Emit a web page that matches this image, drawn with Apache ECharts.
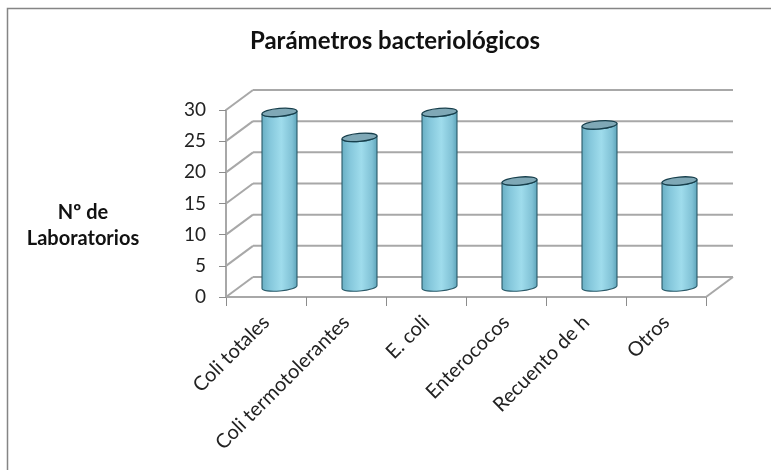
<!DOCTYPE html>
<html><head><meta charset="utf-8">
<style>html,body{margin:0;padding:0;background:#fff}#c{width:771px;height:470px}</style>
<script src="https://cdn.jsdelivr.net/npm/echarts@6/dist/echarts.min.js"></script>
</head><body><div id="c"></div>
<script>
const categories = ['Coli totales','Coli termotolerantes','E. coli','Enterococos','Recuento de h','Otros'];
const values = [28,24,28,17,26,17];
const yTicks = [0,5,10,15,20,25,30];
const titleText = 'Parámetros bacteriológicos';
const yTitleText = 'Nº de\nLaboratorios';

const FONT = 'Lato';
const DEPTH_X = 27, DEPTH_Y = -20;
const chart = echarts.init(document.getElementById('c'), null, {renderer:'canvas'});
const gridCol = '#a8a8a8';

function wallItem(params, api){
  const v = api.value(0);
  const cs = params.coordSys;
  const p = api.coord([0, v]);
  const y = p[1], x0 = cs.x, x1 = cs.x + cs.width;
  const st = {stroke:gridCol, lineWidth:2, fill:null};
  const children = [
    {type:'line', shape:{x1:x0, y1:y, x2:x0+DEPTH_X, y2:y+DEPTH_Y}, style:st}
  ];
  children.push({type:'line', shape:{x1:x0+DEPTH_X, y1:y+DEPTH_Y, x2:x1+DEPTH_X, y2:y+DEPTH_Y}, style:st});
  if (v === 0) children.push({type:'line', shape:{x1:x1, y1:y, x2:x1+DEPTH_X, y2:y+DEPTH_Y}, style:st});
  return {type:'group', children};
}

function cylItem(params, api){
  const top = api.coord([api.value(0), api.value(1)]);
  const base = api.coord([api.value(0), 0]);
  const cx = top[0] + DEPTH_X/2, off = DEPTH_Y/2;
  const rx = 17.5, ry = 4, tilt = -5;
  const dy = rx*Math.sin(-tilt*Math.PI/180);
  const L = cx-rx, R = cx+rx, T = top[1]+off, B = base[1]+off;
  const body = `M${L} ${T+dy}L${L} ${B+dy}A${rx} ${ry} ${tilt} 0 0 ${R} ${B-dy}L${R} ${T-dy}A${rx} ${ry} ${tilt} 0 1 ${L} ${T+dy}Z`;
  const cap = `M${L} ${T+dy}A${rx} ${ry} ${tilt} 0 1 ${R} ${T-dy}A${rx} ${ry} ${tilt} 0 1 ${L} ${T+dy}Z`;
  const grad = new echarts.graphic.LinearGradient(0,0,1,0,[
    {offset:0,color:'#68aec3'},{offset:0.25,color:'#86c8dc'},{offset:0.55,color:'#9fdcec'},
    {offset:0.85,color:'#80c1d5'},{offset:1,color:'#5ba2b7'}]);
  return {type:'group', children:[
    {type:'path', shape:{pathData:body}, style:{fill:grad, stroke:'#2a5a69', lineWidth:1.1}},
    {type:'path', shape:{pathData:cap}, style:{fill:'#7fa8b6', stroke:'#173f4c', lineWidth:1.3}}
  ]};
}

chart.setOption({
  animation:false,
  backgroundColor:'#fff',
  title:[
    {text:titleText,left:390,top:24,textAlign:'center',textStyle:{fontFamily:FONT,fontSize:24,fontWeight:'bold',color:'#111'}},
    {text:yTitleText,left:78,top:195,textAlign:'center',textStyle:{fontFamily:FONT,fontSize:20,fontWeight:'bold',color:'#111',lineHeight:26}}
  ],
  grid:{left:226,right:65,top:110,bottom:173,containLabel:false},
  xAxis:{type:'category',data:categories,boundaryGap:true,
    axisLine:{show:true,lineStyle:{color:gridCol,width:2}},
    axisTick:{show:true,alignWithLabel:false,length:9,lineStyle:{color:'#8c8c8c',width:1}},
    axisLabel:{interval:0,rotate:45,margin:22,fontFamily:FONT,fontSize:20,color:'#222'},
    splitLine:{show:false}},
  yAxis:{type:'value',min:0,max:30,interval:5,
    axisLine:{show:true,lineStyle:{color:gridCol,width:2}},
    axisTick:{show:true,length:7,lineStyle:{color:'#8c8c8c',width:1}},
    axisLabel:{margin:20,fontFamily:FONT,fontSize:19,color:'#222'},
    splitLine:{show:false}},
  series:[
    {type:'custom',coordinateSystem:'cartesian2d',clip:false,silent:true,z:1,
      data:yTicks.map(v=>[v]),encode:{y:0},renderItem:wallItem},
    {type:'custom',coordinateSystem:'cartesian2d',clip:false,silent:true,z:5,
      data:values.map((v,i)=>[i,v]),encode:{x:0,y:1},renderItem:cylItem}
  ],
  graphic:[{type:'polyline',silent:true,shape:{points:[[7.5,470],[7.5,8.5],[771,8.5]]},style:{stroke:'#858585',lineWidth:1.5,fill:null}}]
});
</script></body></html>
